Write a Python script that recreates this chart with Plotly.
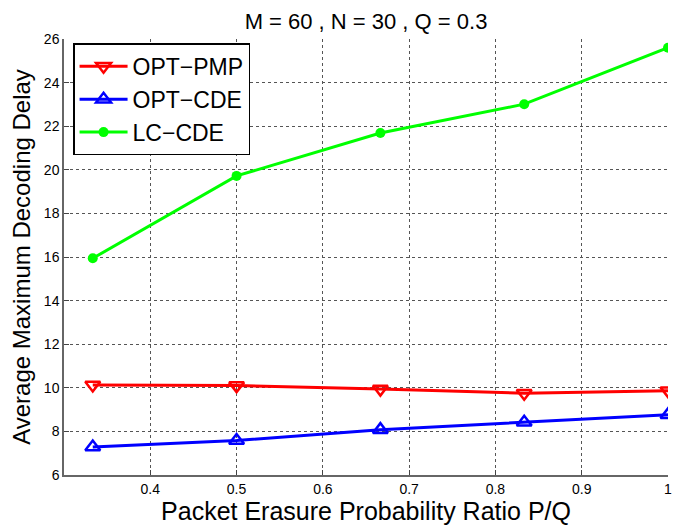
import plotly.graph_objects as go

x = [1/3, 1/2, 2/3, 5/6, 1.0]
opt_pmp = [10.13, 10.10, 9.94, 9.75, 9.87]
opt_cde = [7.28, 7.58, 8.08, 8.42, 8.76]
lc_cde = [15.94, 19.72, 21.69, 23.01, 25.60]

x_ticks = [0.4, 0.5, 0.6, 0.7, 0.8, 0.9, 1]
x_tick_labels = ["0.4", "0.5", "0.6", "0.7", "0.8", "0.9", "1"]
y_ticks = [6, 8, 10, 12, 14, 16, 18, 20, 22, 24, 26]

fig = go.Figure()
fig.add_trace(go.Scatter(x=x, y=opt_pmp, mode="lines+markers", name="OPT\u2212PMP",
                         line=dict(color="#ff0000", width=3),
                         marker=dict(symbol="triangle-down-open", size=13, color="#ff0000",
                                     line=dict(width=2.5, color="#ff0000"))))
fig.add_trace(go.Scatter(x=x, y=opt_cde, mode="lines+markers", name="OPT\u2212CDE",
                         line=dict(color="#0000ff", width=3),
                         marker=dict(symbol="triangle-up-open", size=13, color="#0000ff",
                                     line=dict(width=2.5, color="#0000ff"))))
fig.add_trace(go.Scatter(x=x, y=lc_cde, mode="lines+markers", name="LC\u2212CDE",
                         line=dict(color="#00ff00", width=3),
                         marker=dict(symbol="circle", size=10, color="#00ff00")))

# page body has an 8px margin; the figure is sized to fit the 691x529 window
W, H = 683, 521
L, T, PW, PH = 56, 31, 604, 436
font = "Liberation Sans, Arial, sans-serif"
fig.update_layout(
    width=W, height=H,
    margin=dict(l=L, r=W - L - PW, t=T, b=H - T - PH, autoexpand=False),
    paper_bgcolor="white", plot_bgcolor="white",
    font=dict(family=font, color="black"),
    title=dict(text="M = 60 , N = 30 , Q = 0.3", x=0.5, xanchor="center", xref="paper",
               y=1 - 13/H, yanchor="middle", font=dict(size=22), automargin=False),
    showlegend=True,
    legend=dict(x=0.015, y=0.99, xanchor="left", yanchor="top",
                bgcolor="white", bordercolor="black", borderwidth=1.5,
                font=dict(size=23), tracegroupgap=0, itemwidth=48),
)
fig.update_xaxes(range=[0.3, 1.0], tickvals=x_ticks, ticktext=x_tick_labels,
                 showgrid=True, gridcolor="#555555", griddash="dot", gridwidth=1,
                 ticks="inside", ticklen=5, tickcolor="#444444",
                 showline=True, linecolor="#666666", linewidth=1.5,
                 tickfont=dict(size=14), zeroline=False, automargin=False,
                 title=dict(text="Packet Erasure Probability Ratio P/Q", font=dict(size=25), standoff=2))
fig.update_yaxes(range=[6, 26], tickvals=y_ticks,
                 showgrid=True, gridcolor="#555555", griddash="dot", gridwidth=1,
                 ticks="inside", ticklen=5, tickcolor="#444444",
                 showline=True, linecolor="#666666", linewidth=1.5,
                 tickfont=dict(size=14), zeroline=False, automargin=False,
                 title=dict(text="Average Maximum Decoding Delay", font=dict(size=24), standoff=10))

fig.write_html("out.html")
